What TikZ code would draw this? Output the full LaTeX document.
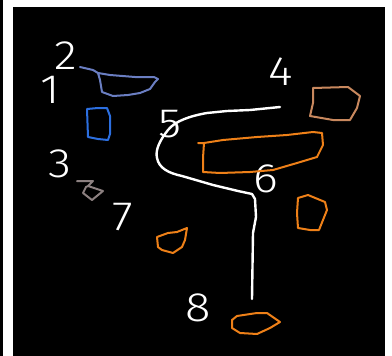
\documentclass[tikz,border=0pt]{standalone}
\usepackage{fontspec}
\newfontfamily\numfont{Fira Sans Light}[FakeStretch=1.15]
\definecolor{slateb}{HTML}{6A7EC2}
\definecolor{brightb}{HTML}{2C6FE0}
\definecolor{grayb}{HTML}{8C8080}
\definecolor{tanb}{HTML}{C8885E}
\definecolor{orangeb}{HTML}{EE8018}
\tikzset{
  num/.style={text=white, font=\numfont\fontsize{41}{41}\selectfont, inner sep=0pt, anchor=center},
  outline/.style={line width=2pt, line join=round, line cap=round},
  whiteline/.style={white, line width=2.4pt, line join=round, line cap=round}
}
\begin{document}
\begin{tikzpicture}[x=1pt,y=-1pt]
\useasboundingbox (0,0) rectangle (392,356);
\fill[black] (0,0) rectangle (392,356);
\fill[white] (3,0) rectangle (13,356);
\fill[white] (3,0) rectangle (392,7);
\fill[white] (385,0) rectangle (392,356);
% numbers
\node[num] (n1) at (50,90) {1};
\node[num] (n2) at (66,56) {2};
\node[num] (n3) at (60,164) {3};
\node[num] (n4) at (281,72) {4};
\node[num] (n5) at (170,124) {5};
\node[num] (n6) at (266,179) {6};
\node[num] (n7) at (123,217) {7};
\node[num] (n8) at (198,308) {8};
% shape 2 (slate blue)
\draw[outline, slateb] (80,67) -- (93,70) -- (98,73) -- (100,80) -- (102,92) -- (113,96) -- (128,95) -- (140,93) -- (150,89) -- (155,82) -- (158,79) -- (154,77) -- (135,77) -- (110,75) -- (98,73);
% shape 1 (bright blue)
\draw[outline, brightb] (87,109) -- (98,108) -- (107,108) -- (110,116) -- (110,134) -- (108,140) -- (98,139) -- (88,137) -- cycle;
% shape 3 (gray)
\draw[outline, grayb] (77,181) -- (93,181) -- (88,186) -- (103,191) -- (92,200) -- (83,193) -- (86,187) -- (88,186);
% shape 4 (tan)
\draw[outline, tanb] (313,88) -- (348,87) -- (360,96) -- (357,108) -- (350,120) -- (333,120) -- (310,116) -- (313,103) -- cycle;
% big orange shape
\draw[outline, orangeb] (198,143) -- (204,143) -- (203,158) -- (203,172) -- (220,173) -- (250,172) -- (273,170) -- (297,163) -- (317,157) -- (323,145) -- (322,133) -- (313,132) -- (287,135) -- (257,137) -- (223,140) -- (204,143);
% shape 6 (orange)
\draw[outline, orangeb] (298,198) -- (308,195) -- (325,202) -- (327,210) -- (323,220) -- (319,230) -- (310,230) -- (298,228) -- (297,213) -- cycle;
% shape 7 (orange)
\draw[outline, orangeb] (157,237) -- (168,233) -- (177,232) -- (187,228) -- (185,240) -- (182,247) -- (173,253) -- (162,250) -- (158,247) -- cycle;
% shape 8 (orange)
\draw[outline, orangeb] (232,320) -- (237,316) -- (257,313) -- (267,313) -- (280,322) -- (270,328) -- (257,334) -- (240,333) -- (232,328) -- cycle;
% white path
\coordinate (p0) at (280,107);
\coordinate (p1) at (252,299);
\draw[whiteline] (p0) -- (250,110) -- (227,111) -- (207,113) .. controls (190,116) and (175,121) .. (168,130) .. controls (160,140) and (155,150) .. (157,158) .. controls (159,168) and (168,173) .. (182,176) -- (213,185) -- (238,191) -- (252,194) -- (255,199) -- (256,217) -- (253,233) -- (p1);
\end{tikzpicture}
\end{document}
